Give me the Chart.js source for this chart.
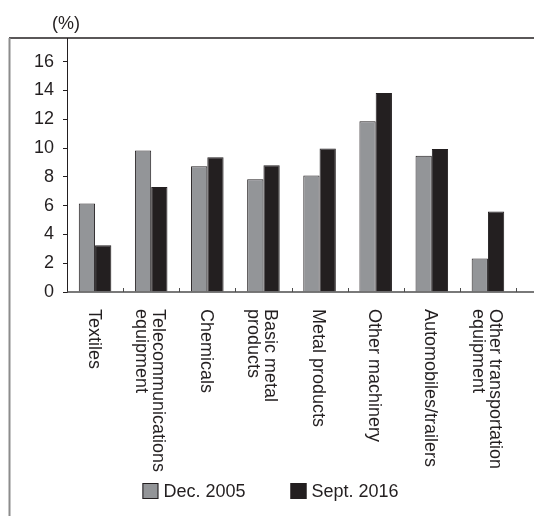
<!DOCTYPE html>
<html>
<head>
<meta charset="utf-8">
<script src="https://cdn.jsdelivr.net/npm/chart.js@4/dist/chart.umd.min.js"></script>
<style>
  html, body { margin: 0; padding: 0; background: #fff; }
  #wrap { width: 534px; height: 516px; position: relative; }
</style>
</head>
<body>
<div id="wrap"><canvas id="sectorChart"></canvas></div>
<script>
const categories = [
  ["Textiles"],
  ["Telecommunications", "equipment"],
  ["Chemicals"],
  ["Basic metal", "products"],
  ["Metal products"],
  ["Other machinery"],
  ["Automobiles/trailers"],
  ["Other transportation", "equipment"],
];
const dec2005 = [6.15, 9.83, 8.74, 7.84, 8.1, 11.87, 9.46, 2.32];
const sept2016 = [3.25, 7.3, 9.37, 8.81, 9.97, 13.82, 9.93, 5.59];
const yTicks = [0, 2, 4, 6, 8, 10, 12, 14, 16];
const unitLabel = "(%)";

const FONT = "'Liberation Sans', Arial, sans-serif";
const INK = "#231f20";
const GREY = "#939598";

// frame, x axis line, rotated category labels, legend
const decorations = {
  id: "decorations",
  afterDraw(chart) {
    const { ctx, chartArea, width, height } = chart;
    const x = chart.scales.x;
    ctx.save();

    // frame: top rule and left rule
    ctx.strokeStyle = INK;
    ctx.lineWidth = 1.5;
    ctx.beginPath();
    ctx.moveTo(9, chartArea.top);
    ctx.lineTo(width, chartArea.top);
    ctx.stroke();
    ctx.strokeStyle = "#8c8c8c";
    ctx.lineWidth = 2;
    ctx.beginPath();
    ctx.moveTo(9.5, chartArea.top);
    ctx.lineTo(9.5, height);
    ctx.stroke();

    // x axis line runs to the edge
    ctx.strokeStyle = "#4d4d4d";
    ctx.lineWidth = 1.5;
    ctx.beginPath();
    ctx.moveTo(chartArea.left, chartArea.bottom);
    ctx.lineTo(width, chartArea.bottom);
    ctx.stroke();

    // small inward ticks between categories
    ctx.lineWidth = 1;
    const step = x.getPixelForValue(1) - x.getPixelForValue(0);
    for (let i = 0; i < categories.length; i++) {
      const bx = Math.round(x.getPixelForValue(i) + step / 2) + 0.5;
      ctx.beginPath();
      ctx.moveTo(bx, chartArea.bottom);
      ctx.lineTo(bx, chartArea.bottom - 4);
      ctx.stroke();
    }

    // unit label
    ctx.fillStyle = INK;
    ctx.font = "18px " + FONT;
    ctx.textAlign = "center";
    ctx.textBaseline = "middle";
    ctx.fillText(unitLabel, 66, 24);

    // category labels, turned clockwise
    const lh = 17;
    ctx.textAlign = "left";
    ctx.textBaseline = "alphabetic";
    categories.forEach((lines, i) => {
      const cx = x.getPixelForValue(i);
      ctx.save();
      ctx.translate(cx - 6.5, chartArea.bottom + 17);
      ctx.rotate(Math.PI / 2);
      const n = lines.length;
      lines.forEach((t, j) => {
        ctx.fillText(t, 0, (j - (n - 1) / 2) * lh);
      });
      ctx.restore();
    });

    // legend
    const items = chart.data.datasets.map(d => ({ text: d.label, color: d.backgroundColor }));
    const box = 16, gapText = 5, gapItem = 45;
    let total = 0;
    items.forEach((it, k) => {
      it.w = ctx.measureText(it.text).width;
      total += box + gapText + it.w + (k < items.length - 1 ? gapItem : 0);
    });
    let lx = 270.5 - total / 2;
    const ly = 491;
    ctx.textBaseline = "middle";
    items.forEach(it => {
      ctx.fillStyle = it.color;
      ctx.fillRect(lx, ly - box / 2, box, box);
      ctx.strokeStyle = INK;
      ctx.lineWidth = 1;
      ctx.strokeRect(lx + 0.5, ly - box / 2 + 0.5, box - 1, box - 1);
      ctx.fillStyle = INK;
      ctx.fillText(it.text, lx + box + gapText, ly + 1);
      lx += box + gapText + it.w + gapItem;
    });

    ctx.restore();
  },
};

new Chart(document.getElementById("sectorChart"), {
  type: "bar",
  data: {
    labels: categories,
    datasets: [
      {
        label: "Dec. 2005",
        data: dec2005,
        backgroundColor: GREY,
        borderColor: INK,
        borderWidth: 1,
      },
      {
        label: "Sept. 2016",
        data: sept2016,
        backgroundColor: INK,
        borderColor: INK,
        borderWidth: 1,
      },
    ],
  },
  options: {
    responsive: true,
    maintainAspectRatio: false,
    animation: false,
    devicePixelRatio: 1,
    layout: { padding: { top: 38, right: 18, bottom: 224, left: 0 } },
    datasets: { bar: { categoryPercentage: 0.58, barPercentage: 1 } },
    plugins: {
      legend: { display: false },
      tooltip: { enabled: false },
    },
    scales: {
      x: { display: false },
      y: {
        min: 0,
        max: 17.65,
        afterBuildTicks: (scale) => {
          scale.ticks = yTicks.map((v) => ({ value: v }));
        },
        afterFit: (scale) => {
          scale.width = 67;
        },
        border: { display: true, color: INK, width: 1 },
        grid: {
          drawOnChartArea: false,
          drawTicks: true,
          tickLength: 4,
          color: INK,
        },
        ticks: {
          padding: 9,
          color: INK,
          font: { family: FONT, size: 18 },
        },
      },
    },
  },
  plugins: [decorations],
});
</script>
</body>
</html>
